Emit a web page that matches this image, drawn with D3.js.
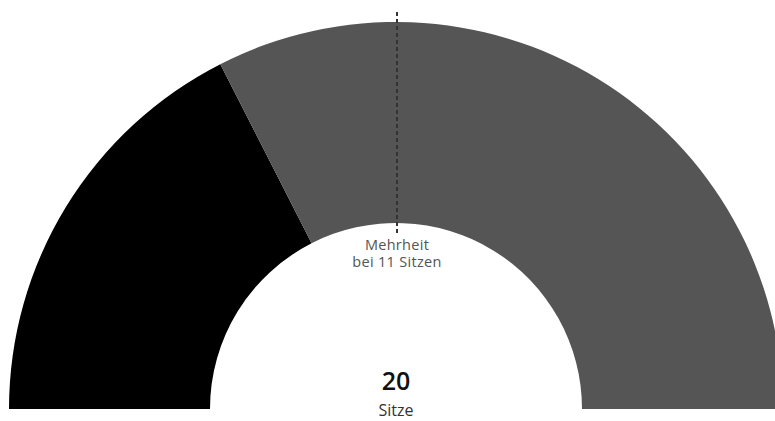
<!DOCTYPE html>
<html><head><meta charset="utf-8">
<script src="https://cdn.jsdelivr.net/npm/d3@7"></script>
<style>body{margin:0;background:#fff;overflow:hidden}svg{display:block}</style>
</head><body>
<svg id="c" width="775" height="421"></svg>
<script>
const parties = ["Partei A", "Partei B"];
const seats = [7, 13];
const colors = ["#000000", "#555555"];
const totalSeats = 20;
const majority = 11;

const svg = d3.select("#c");
const cx = 396, cy = 409, rOuter = 387, rInner = 186;
const g = svg.append("g").attr("transform", `translate(${cx},${cy})`);

const pie = d3.pie().sort(null).value(d => d).startAngle(-Math.PI/2).endAngle(Math.PI/2);
const arc = d3.arc().innerRadius(rInner).outerRadius(rOuter);

g.selectAll("path").data(pie(seats)).join("path")
  .attr("d", arc).attr("fill", (d,i) => colors[i]);

// majority line
const angle = d3.scaleLinear().domain([0, totalSeats]).range([-Math.PI/2, Math.PI/2]);
const a = angle(totalSeats/2);
g.append("line")
  .attr("x1", (rInner - 10) * Math.sin(a) + 1).attr("y1", -(rInner - 10) * Math.cos(a))
  .attr("x2", (rOuter + 12) * Math.sin(a) + 1).attr("y2", -(rOuter + 12) * Math.cos(a))
  .attr("stroke", "#333").attr("stroke-width", 2).attr("stroke-dasharray", "4,3");

const font = "'Open Sans', 'Noto Sans', sans-serif";
g.append("text").attr("x", 1).attr("y", -rInner + 27).attr("text-anchor", "middle")
  .attr("font-family", font).attr("font-size", 14.5).attr("letter-spacing", 0.3).attr("fill", "#555").text("Mehrheit");
g.append("text").attr("x", 1).attr("y", -rInner + 44).attr("text-anchor", "middle")
  .attr("font-family", font).attr("font-size", 14.5).attr("letter-spacing", 0.3).attr("fill", "#555").text(`bei ${majority} Sitzen`);

g.append("text").attr("x", 0).attr("y", -19).attr("text-anchor", "middle")
  .attr("font-family", font).attr("font-size", 25).attr("font-weight", 600).attr("fill", "#111").text(totalSeats);
g.append("text").attr("x", 0).attr("y", 7).attr("text-anchor", "middle")
  .attr("font-family", font).attr("font-size", 16).attr("fill", "#333").text("Sitze");
</script>
</body></html>
